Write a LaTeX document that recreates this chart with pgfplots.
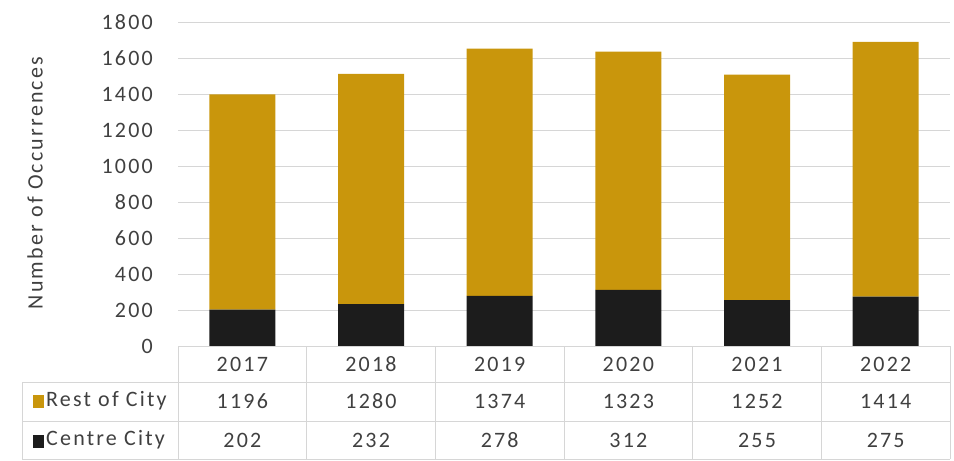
\documentclass[border=0pt]{standalone}
\usepackage{pgfplots}
\pgfplotsset{compat=1.18}
\usepackage{pgfplotstable}
\usepackage{fontspec}
\setmainfont{Carlito}[LetterSpace=10]
\definecolor{gold}{HTML}{C9960C}
\definecolor{dark}{HTML}{1C1C1C}
\definecolor{txt}{HTML}{404040}
\definecolor{gridc}{HTML}{D6D6D6}

\pgfplotstableread{
idx year rest centre
0 2017 1196 202
1 2018 1280 232
2 2019 1374 278
3 2020 1323 312
4 2021 1252 255
5 2022 1414 275
}\data

\begin{document}
\begin{tikzpicture}[font=\fontsize{22bp}{26bp}\selectfont, every node/.append style={text=txt}]
\path[use as bounding box] (0,0) rectangle (954bp,-461bp);
\begin{axis}[
  at={(178bp,-346bp)}, anchor=south west,
  scale only axis, width=772bp, height=324bp,
  xmin=-0.5, xmax=5.5, ymin=0, ymax=1800,
  ytick={0,200,...,1800},
  xtick={0,...,5},
  xticklabels from table={\data}{year},
  xticklabel style={anchor=center, yshift=-18bp, inner sep=0pt},
  yticklabel style={anchor=east, inner sep=0pt, xshift=-25bp},
  /pgf/number format/assume math mode=true,
  /pgf/number format/1000 sep={},
  ymajorgrids, grid style={gridc, line width=0.9bp},
  axis line style={draw=none},
  major tick length=0pt,
  ybar stacked, bar width=66bp,
  clip=false,
]
\addplot[fill=dark, draw=none] table[x=idx, y=centre]{\data};
\addplot[fill=gold, draw=none] table[x=idx, y=rest]{\data};
\end{axis}
% table lines
\begin{scope}[draw=gridc, line width=0.9bp]
\draw (178bp,-346bp) -- (950bp,-346bp);
\draw (22bp,-382bp) -- (950bp,-382bp);
\draw (22bp,-421bp) -- (950bp,-421bp);
\draw (22bp,-459bp) -- (950bp,-459bp);
\draw (22bp,-382bp) -- (22bp,-459bp);
\foreach \xx in {178,306.7,435.3,564,692.7,821.3,950}{
  \draw (\xx bp,-346bp) -- (\xx bp,-459bp);
}
\end{scope}
% legend keys
\fill[gold] (33bp,-395bp) rectangle (44bp,-408bp);
\fill[dark] (33bp,-435bp) rectangle (44bp,-448bp);
\node[anchor=west, inner sep=0pt] at (46bp,-401bp) {Rest of City};
\node[anchor=west, inner sep=0pt] at (46bp,-440bp) {Centre City};
% table values
\foreach \i in {0,...,5}{
  \pgfplotstablegetelem{\i}{rest}\of\data
  \node[inner sep=0pt] at ({178bp+128.67bp*(\i+0.5)},-401bp) {\pgfplotsretval};
  \pgfplotstablegetelem{\i}{centre}\of\data
  \node[inner sep=0pt] at ({178bp+128.67bp*(\i+0.5)},-440bp) {\pgfplotsretval};
}
% y label
\node[rotate=90, inner sep=0pt] at (35bp,-183bp) {Number of Occurrences};
\end{tikzpicture}
\end{document}
